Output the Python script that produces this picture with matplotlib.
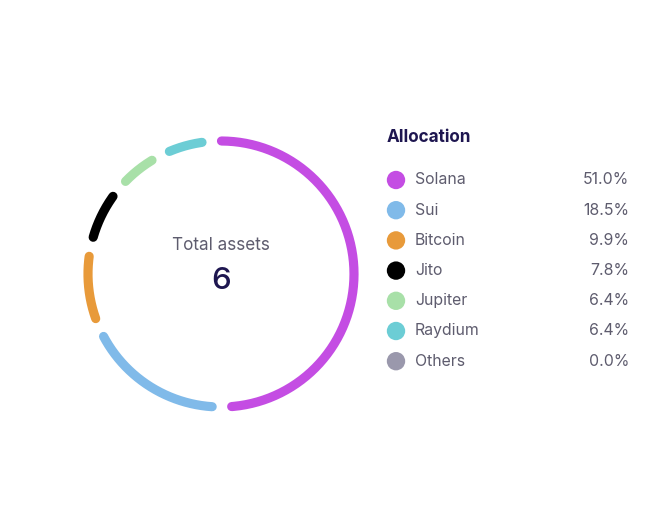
import numpy as np
import matplotlib.pyplot as plt

#%% data

assets = ["Solana", "Sui", "Bitcoin", "Jito", "Jupiter", "Raydium", "Others"]
shares = [51.0, 18.5, 9.9, 7.8, 6.4, 6.4, 0.0]
colors = ["#C44DE3", "#80BAE9", "#E89A3A", "#000000", "#A8E0A8", "#6CCDD5", "#9A98AC"]
total_assets = 6

#%% layout

plt.rcParams['font.family'] = ['Inter', 'DejaVu Sans']
fig = plt.figure(figsize=(6.67, 5.19), dpi=100)
ax = fig.add_axes([0, 0, 1, 1])
ax.set_xlim(0, 667)
ax.set_ylim(519, 0)
ax.axis('off')

cx, cy, r = 221, 274, 133
gap = 8.4      # degrees between cap centres
start = -4.0   # degrees clockwise from 12 o'clock

#%% ring

acc = start
for name, val, col in zip(assets, shares, colors):
    span = val / 100 * 360
    if val > 0:
        a0 = acc + gap / 2
        a1 = acc + span - gap / 2
        t = np.radians(np.linspace(a0, a1, 200))
        ax.plot(cx + r * np.sin(t), cy - r * np.cos(t), color=col,
                lw=6.6, solid_capstyle='round')
    acc += span

ax.text(cx, 245, "Total assets", ha='center', va='center', fontsize=12.3, color="#5E5C6E")
ax.text(cx, 281, str(total_assets), ha='center', va='center', fontsize=22.5,
        fontweight='medium', color="#1E1650")

#%% legend

ax.text(387, 137, "Allocation", ha='left', va='center', fontsize=12.3,
        fontweight='bold', color="#1E1650")
row_y = 180
for name, val, col in zip(assets, shares, colors):
    ax.scatter([396], [row_y], s=175, color=col, edgecolors='none')
    ax.text(415, row_y, name, ha='left', va='center', fontsize=11.4, color="#5E5C6E")
    ax.text(629, row_y, f"{val:.1f}%", ha='right', va='center', fontsize=11.4, color="#5E5C6E")
    row_y += 30.2

fig.savefig("out.png", dpi=100)
